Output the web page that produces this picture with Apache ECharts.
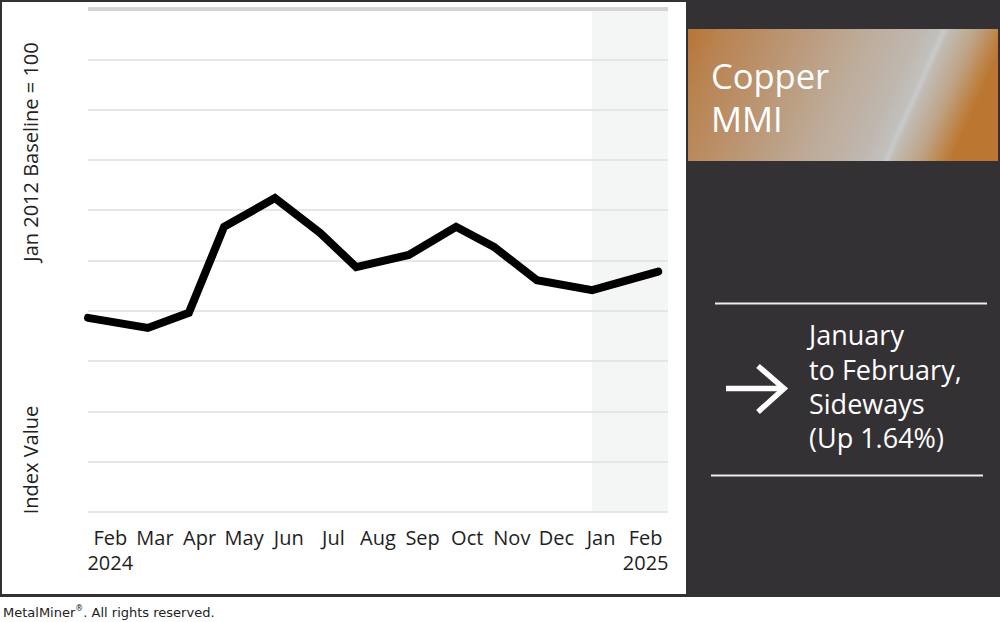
<!DOCTYPE html>
<html>
<head>
<meta charset="utf-8">
<style>
  html, body { margin: 0; padding: 0; background: #fff; }
  #chart { width: 1000px; height: 622px; }
</style>
<script src="https://cdn.jsdelivr.net/npm/echarts@6/dist/echarts.min.js"></script>
</head>
<body>
<div id="chart"></div>
<script>
// ---- data ----
const categories = ['Feb', 'Mar', 'Apr', 'May', 'Jun', 'Jul', 'Aug', 'Sep', 'Oct', 'Nov', 'Dec', 'Jan', 'Feb'];
const yearLabels = ['2024', '', '', '', '', '', '', '', '', '', '', '', '2025'];
// horizontal position of each monthly reading, in month units along the axis
const monthPositions = [0.0, 1.34, 2.26, 3.05, 4.19, 5.2, 6.01, 7.19, 8.25, 9.1, 10.06, 11.3, 12.78];
// index values (relative scale, 0 = bottom gridline, 100 = top gridline)
const indexValues = [38.6, 36.6, 39.6, 56.7, 62.4, 55.5, 48.7, 51.1, 56.7, 52.7, 46.1, 44.1, 47.8];
// highlighted latest period (Jan -> Feb 2025)
const highlightRange = [11.3, 13];
const yTicks = { min: 0, max: 100, interval: 10 };

const title1 = 'Copper';
const title2 = 'MMI';
const summaryLines = ['January', 'to February,', 'Sideways', '(Up 1.64%)'];
const yNameTop = 'Jan 2012 Baseline = 100';
const yNameBottom = 'Index Value';

const FONT = '"Open Sans", "Noto Sans", sans-serif';

const chart = echarts.init(document.getElementById('chart'), null, { renderer: 'svg' });

const option = {
  backgroundColor: '#ffffff',
  animation: false,
  grid: { left: 88, right: 332, top: 9, bottom: 110, containLabel: false },
  xAxis: [
    {
      type: 'category',
      data: categories,
      boundaryGap: true,
      axisLine: { show: false },
      axisTick: { show: false },
      splitLine: { show: false },
      axisLabel: {
        interval: 0,
        margin: 13,
        color: '#1e1e1e',
        fontFamily: FONT,
        fontSize: 20,
        lineHeight: 25,
        formatter: function (v, i) { return v + '\n' + yearLabels[i]; }
      }
    },
    { type: 'value', min: 0, max: 13, show: false }
  ],
  yAxis: {
    type: 'value',
    min: yTicks.min,
    max: yTicks.max,
    interval: yTicks.interval,
    axisLine: { show: false },
    axisTick: { show: false },
    axisLabel: { show: false },
    splitLine: { show: true, lineStyle: { color: '#dedede', width: 1.5 } }
  },
  series: [
    {
      type: 'line',
      xAxisIndex: 1,
      data: monthPositions.map((x, i) => [x, indexValues[i]]),
      symbol: 'none',
      smooth: false,
      z: 5,
      lineStyle: { color: '#000000', width: 8, cap: 'round', join: 'miter' },
      markArea: {
        silent: true,
        itemStyle: { color: 'rgba(220,228,224,0.35)' },
        data: [[{ xAxis: highlightRange[0] }, { xAxis: highlightRange[1] }]]
      },
      markLine: {
        silent: true,
        symbol: 'none',
        label: { show: false },
        lineStyle: { color: '#d3d4d5', width: 4, type: 'solid' },
        data: [{ yAxis: yTicks.max }]
      }
    }
  ],
  graphic: [
    { type: 'rect', z: -20, silent: true, shape: { x: 0, y: 0, width: 1000, height: 597 }, style: { fill: '#333133' } },
    { type: 'rect', z: -10, silent: true, shape: { x: 2, y: 2, width: 684, height: 592 }, style: { fill: '#ffffff' } },
    {
      type: 'text', silent: true, x: 30, y: 152, rotation: Math.PI / 2,
      style: { text: yNameTop, fill: '#222222', font: '20px ' + FONT, textAlign: 'center', textVerticalAlign: 'middle' }
    },
    {
      type: 'text', silent: true, x: 30, y: 460, rotation: Math.PI / 2,
      style: { text: yNameBottom, fill: '#222222', font: '20px ' + FONT, textAlign: 'center', textVerticalAlign: 'middle' }
    },
    {
      type: 'rect', silent: true, shape: { x: 688, y: 29, width: 310, height: 132 },
      style: {
        fill: {
          type: 'linear', x: 0, y: 0, x2: 1, y2: 0.19,
          colorStops: [
            { offset: 0, color: '#b87434' },
            { offset: 0.1, color: '#b9824f' },
            { offset: 0.35, color: '#bb9878' },
            { offset: 0.55, color: '#bdab98' },
            { offset: 0.72, color: '#bfb7af' },
            { offset: 0.785, color: '#c2c0bd' },
            { offset: 0.8, color: '#c9cacb' },
            { offset: 0.815, color: '#c2bcb5' },
            { offset: 0.9, color: '#bea386' },
            { offset: 0.97, color: '#bd8447' },
            { offset: 1, color: '#bb7732' }
          ]
        }
      }
    },
    { type: 'text', silent: true, x: 711, y: 75, style: { text: title1, fill: '#ffffff', font: '34.5px ' + FONT, textAlign: 'left', textVerticalAlign: 'middle' } },
    { type: 'text', silent: true, x: 711, y: 118, style: { text: title2, fill: '#ffffff', font: '34.5px ' + FONT, textAlign: 'left', textVerticalAlign: 'middle' } },
    { type: 'line', silent: true, shape: { x1: 715, y1: 303.5, x2: 987, y2: 303.5 }, style: { stroke: '#eeeeee', lineWidth: 2 } },
    { type: 'line', silent: true, shape: { x1: 711, y1: 475.5, x2: 983, y2: 475.5 }, style: { stroke: '#eeeeee', lineWidth: 2 } },
    { type: 'line', silent: true, shape: { x1: 726, y1: 388.5, x2: 783, y2: 388.5 }, style: { stroke: '#ffffff', lineWidth: 5.5 } },
    { type: 'polyline', silent: true, shape: { points: [[758, 366], [784, 388.5], [758, 412]] }, style: { stroke: '#ffffff', lineWidth: 5.5, fill: null, lineJoin: 'miter' } },
    { type: 'text', silent: true, x: 809, y: 334.5, style: { text: summaryLines[0], fill: '#ffffff', font: '27px ' + FONT, textAlign: 'left', textVerticalAlign: 'middle' } },
    { type: 'text', silent: true, x: 809, y: 369.5, style: { text: summaryLines[1], fill: '#ffffff', font: '27px ' + FONT, textAlign: 'left', textVerticalAlign: 'middle' } },
    { type: 'text', silent: true, x: 809, y: 403.5, style: { text: summaryLines[2], fill: '#ffffff', font: '27px ' + FONT, textAlign: 'left', textVerticalAlign: 'middle' } },
    { type: 'text', silent: true, x: 809, y: 437, style: { text: summaryLines[3], fill: '#ffffff', font: '27px ' + FONT, textAlign: 'left', textVerticalAlign: 'middle' } },
    {
      type: 'text', silent: true, x: 3, y: 612,
      style: {
        text: '{a|MetalMiner}{s|®}{a|. All rights reserved.}',
        textAlign: 'left', textVerticalAlign: 'middle',
        rich: {
          a: { fontFamily: '"DejaVu Sans", Verdana, sans-serif', fontSize: 13, fill: '#222222', lineHeight: 16 },
          s: { fontFamily: '"DejaVu Sans", Verdana, sans-serif', fontSize: 8, fill: '#222222', lineHeight: 16, verticalAlign: 'top' }
        }
      }
    }
  ]
};

chart.setOption(option);
</script>
</body>
</html>
